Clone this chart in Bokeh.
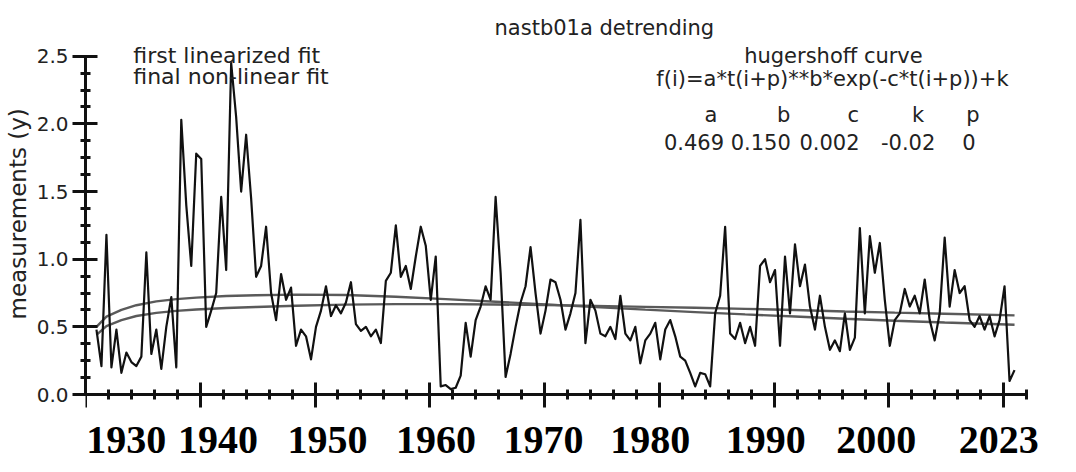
import numpy as np
from bokeh.plotting import figure
from bokeh.models import (Range1d, FixedTicker, Label, Title, PrintfTickFormatter,
                          CustomLabelingPolicy)
from bokeh.embed import file_html
from bokeh.resources import INLINE

# ---------------- data ----------------
# semi-annual measurement positions 1930 .. 2022
years = np.arange(185) * 0.5 + 1930.0
measurements = [
    0.48, 0.21, 1.18, 0.20, 0.48, 0.16, 0.31, 0.24, 0.21, 0.28, 1.05, 0.30, 0.48, 0.19, 0.50, 0.72, 0.20,
    2.03, 1.40, 0.95, 1.78, 1.74, 0.50, 0.62, 0.75, 1.46, 0.92, 2.45, 2.05, 1.50, 1.92, 1.45, 0.87, 0.95,
    1.24, 0.75, 0.55, 0.89, 0.70, 0.79, 0.36,
    0.48, 0.43, 0.26, 0.50, 0.62, 0.80, 0.58, 0.66, 0.60, 0.68, 0.83, 0.52, 0.47, 0.50, 0.43, 0.48, 0.38,
    0.84, 0.90, 1.25, 0.87, 0.95, 0.78, 1.02, 1.24, 1.10, 0.70, 1.02,
    0.06, 0.07, 0.04, 0.05, 0.14, 0.53, 0.28, 0.55, 0.65, 0.80, 0.70, 1.46, 0.90, 0.13, 0.30, 0.50, 0.68,
    0.80, 1.09, 0.75, 0.45, 0.62, 0.85, 0.83, 0.70, 0.48, 0.60, 0.75, 1.29, 0.38, 0.70, 0.62,
    0.45, 0.43, 0.50, 0.41, 0.73, 0.45, 0.40, 0.50, 0.23, 0.40, 0.45, 0.53, 0.26, 0.48, 0.55, 0.43, 0.28,
    0.25, 0.16, 0.06, 0.16, 0.15, 0.06, 0.60, 0.73, 1.24,
    0.45, 0.41, 0.53, 0.38, 0.50, 0.36, 0.95, 1.00, 0.83, 0.92, 0.36, 1.02, 0.60, 1.11, 0.80, 0.96, 0.65,
    0.48, 0.73, 0.50, 0.33, 0.40, 0.32, 0.60, 0.33, 0.42, 1.23, 0.60, 1.17, 0.90, 1.12, 0.70, 0.36, 0.55,
    0.60, 0.78, 0.65, 0.73, 0.60, 0.85, 0.55, 0.40, 0.60, 1.16, 0.65, 0.92, 0.75, 0.80, 0.55, 0.50, 0.58,
    0.48, 0.58, 0.43, 0.55, 0.80, 0.10, 0.18,
]
assert len(measurements) == len(years)

fit_years = [1930, 1931, 1932.5, 1934, 1936, 1938, 1940, 1943, 1946, 1950, 1955, 1960, 1965,
             1970, 1975, 1980, 1985, 1990, 1995, 2000, 2005, 2010, 2015, 2022]
first_fit = [0.50, 0.575, 0.625, 0.66, 0.688, 0.705, 0.716, 0.728, 0.734, 0.738, 0.735, 0.722, 0.705,
             0.686, 0.666, 0.646, 0.627, 0.609, 0.592, 0.576, 0.56, 0.545, 0.532, 0.515]
final_fit = [0.44, 0.505, 0.55, 0.58, 0.603, 0.618, 0.628, 0.639, 0.647, 0.656, 0.664, 0.668, 0.668,
             0.665, 0.661, 0.655, 0.648, 0.641, 0.633, 0.625, 0.614, 0.605, 0.597, 0.585]

param_names = ["a", "b", "c", "k", "p"]
param_values = ["0.469", "0.150", "0.002", "-0.02", "0"]
year_labels = ["1930", "1940", "1950", "1960", "1970", "1980", "1990", "2000", "2023"]

# ---------------- layout helpers (page pixels -> data units) ----------------
PPY = 10.02      # px per year
PPU = 135.3      # px per measurement unit
def xd(px):
    return 1930.0 + (px - 100.0) / PPY

def yd(py):
    return (395.0 - py) / PPU

W, H = 1060, 463
TOP = 13          # room taken by the tick axis panel above the frame
p = figure(width=W, height=H, output_backend="svg", toolbar_location=None,
           x_axis_location="above",
           x_range=Range1d(xd(89), xd(8 + W)), y_range=Range1d(yd(1 + H), yd(1 + TOP)),
           min_border_left=81, min_border_right=0, min_border_top=TOP, min_border_bottom=0)
p.title.visible = False
p.outline_line_color = None
p.xgrid.visible = False
p.ygrid.visible = False
p.background_fill_color = "white"
p.border_fill_color = "white"

# fits and measurements
p.line(fit_years, first_fit, line_color="#5a5a5a", line_width=2.4)
p.line(fit_years, final_fit, line_color="#5a5a5a", line_width=2.4)
p.line(years, measurements, line_color="#111111", line_width=2.2, line_join="round")

AX = "#111111"
# x axis, drawn at measurement 0 (the year captions are separate, as in the picture)
x0 = xd(89)
step = 11.5
x_end = x0 + 41 * step / 5
majors = [x0 + k * step for k in range(9)]
minors = [x0 + j * step / 5 for j in range(42) if j % 5 != 0]
xa = p.xaxis[0]
xa.fixed_location = 0
xa.bounds = (x0, x_end)
xa.ticker = FixedTicker(ticks=majors, minor_ticks=minors)
xa.major_label_policy = CustomLabelingPolicy(code="return []")
xa.major_label_text_font_size = "0px"
xa.major_label_standoff = 0
xa.axis_line_width = 3
xa.axis_line_color = AX
xa.major_tick_in = 13
xa.major_tick_out = 12
xa.major_tick_line_width = 3
xa.major_tick_line_color = AX
xa.minor_tick_in = 5
xa.minor_tick_out = 5
xa.minor_tick_line_width = 3
xa.minor_tick_line_color = AX

# y axis
ya = p.yaxis[0]
ya.bounds = (0, 2.5)
ya.ticker = FixedTicker(ticks=[0, 0.5, 1.0, 1.5, 2.0, 2.5],
                        minor_ticks=[v / 8 for v in range(21) if v % 4 != 0])
ya.formatter = PrintfTickFormatter(format="%.1f")
ya.axis_line_width = 3
ya.axis_line_color = AX
ya.major_tick_in = 12
ya.major_tick_out = 13
ya.major_tick_line_width = 3
ya.major_tick_line_color = AX
ya.minor_tick_in = 5
ya.minor_tick_out = 5
ya.minor_tick_line_width = 3
ya.minor_tick_line_color = AX
ya.major_label_text_font = "DejaVu Sans"
ya.major_label_text_font_size = "20px"
ya.major_label_text_color = "#222222"
ya.major_label_standoff = 4

# y caption (starts at page y ~318 and reads upward)
p.add_layout(Title(text="measurements (y)", align="left", offset=(1 + H) - 320, standoff=5,
                   text_font="DejaVu Sans", text_font_size="23px", text_font_style="normal",
                   text_color="#222222"), "left")

# year captions under the axis
label_px = [130, 222, 332, 441, 549, 656, 772, 883, 1006]
for lab, cx in zip(year_labels, label_px):
    p.add_layout(Label(x=xd(cx), y=yd(440), text=lab, text_align="center",
                       text_baseline="alphabetic", text_font="Liberation Serif",
                       text_font_style="bold", text_font_size="40px", text_color="black"))

TXT = dict(text_font="DejaVu Sans", text_font_size="21px", text_color="#222222",
           text_baseline="alphabetic")
p.add_layout(Label(x=xd(610), y=yd(28), text="nastb01a detrending", text_align="center", **TXT))
LEG = dict(TXT, text_font_size="22px")
p.add_layout(Label(x=xd(137), y=yd(56), text="first linearized fit", text_align="left", **LEG))
p.add_layout(Label(x=xd(137), y=yd(77), text="final non-linear fit", text_align="left", **LEG))
p.add_layout(Label(x=xd(840), y=yd(56), text="hugershoff curve", text_align="center", **TXT))
p.add_layout(Label(x=xd(839), y=yd(79), text="f(i)=a*t(i+p)**b*exp(-c*t(i+p))+k",
                   text_align="center", **TXT))
for name, cx in zip(param_names, [717, 790, 860, 925, 980]):
    p.add_layout(Label(x=xd(cx), y=yd(115), text=name, text_align="center", **TXT))
for val, cx in zip(param_values, [700, 767, 836, 915, 976]):
    p.add_layout(Label(x=xd(cx), y=yd(142), text=val, text_align="center", **TXT))

open("out.html", "w").write(file_html(p, INLINE))
